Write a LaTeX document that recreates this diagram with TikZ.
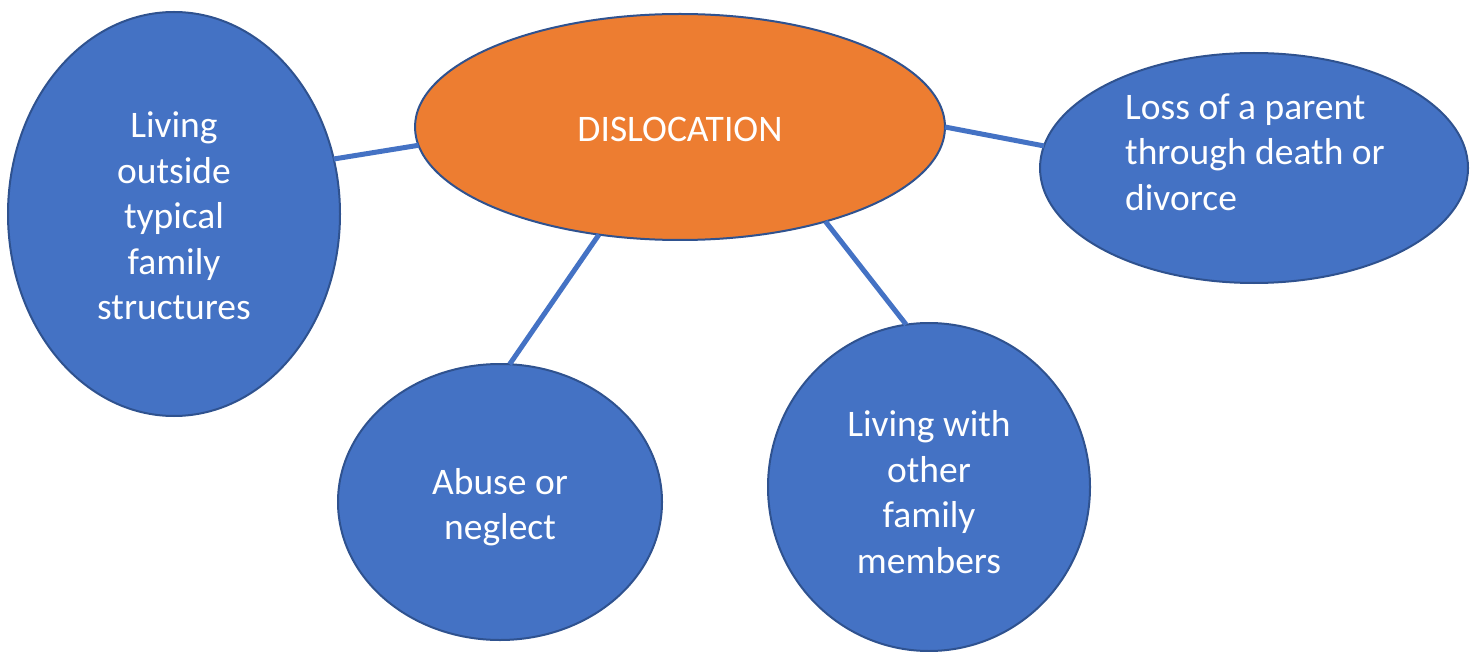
\documentclass[tikz,border=0pt]{standalone}
\usepackage{fontspec}
\setmainfont{Carlito}
\usetikzlibrary{shapes.geometric}
\definecolor{bfill}{HTML}{4472C4}
\definecolor{bline}{HTML}{2F528F}
\definecolor{ofill}{HTML}{ED7D31}
\tikzset{
  blob/.style={ellipse, draw=bline, line width=2pt, inner sep=0pt, outer sep=0pt},
  bluebl/.style={blob, fill=bfill},
  orangebl/.style={blob, fill=ofill},
  lbl/.style={text=white, font=\fontsize{37.5}{45.5}\selectfont, inner sep=0pt, align=center},
  link/.style={draw=bfill, line width=5pt}
}
\begin{document}
\begin{tikzpicture}[x=1pt,y=-1pt]
\useasboundingbox (0,0) rectangle (1471,652);
\node[orangebl, minimum width=530pt, minimum height=226pt] (C) at (680,127) {};
\node[bluebl, minimum width=332pt, minimum height=404pt] (L) at (174,214) {};
\node[bluebl, minimum width=428pt, minimum height=230pt] (R) at (1254,168) {};
\node[bluebl, minimum width=324pt, minimum height=276pt] (BL) at (500,502) {};
\node[bluebl, minimum width=322pt, minimum height=328pt] (BR) at (929,487) {};
\draw[link] (L.19) -- (C.184);
\draw[link] (C.0) -- (R.174);
\draw[link] (C.233) -- (BL.86.6);
\draw[link] (C.327) -- (BR.98);
\node[lbl] (tC) at (680,129) {DISLOCATION};
\node[lbl] (tL) at (174,216) {Living\\outside\\typical\\family\\structures};
\node[lbl, align=left, anchor=west] (tR) at (1125,152) {Loss of a parent\\through death or\\divorce};
\node[lbl] (tBL) at (500,507) {Abuse or\\neglect};
\node[lbl] (tBR) at (929,492) {Living with\\other\\family\\members};
\end{tikzpicture}
\end{document}
